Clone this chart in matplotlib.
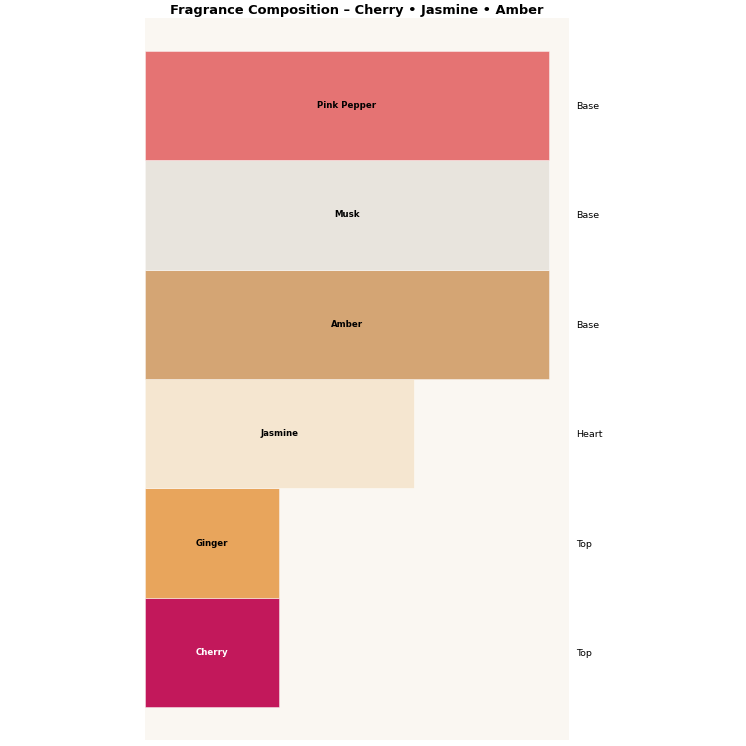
import matplotlib.pyplot as plt
import numpy as np

# notes from bottom to top
notes = ["Cherry", "Ginger", "Jasmine", "Amber", "Musk", "Pink Pepper"]
tiers = ["Top", "Top", "Heart", "Base", "Base", "Base"]
strength = [1, 1, 2, 3, 3, 3]
colors = ["#C2185B", "#E8A55C", "#F5E6D0", "#D4A574", "#E8E4DD", "#E57373"]

fig = plt.figure(figsize=(7.46, 7.46), dpi=100)
ax = fig.add_axes([0.194, 0.008, 0.569, 0.968])
ax.set_facecolor("#FAF7F2")

y = np.arange(len(notes))
ax.barh(y, strength, height=1.0, color=colors, edgecolor=(1, 1, 1, 0.5), linewidth=0.6)

for i in range(len(notes)):
    txt_color = "white" if notes[i] == "Cherry" else "black"
    ax.text(strength[i] / 2, y[i], notes[i], ha="center", va="center",
            fontsize=6.2, fontweight="bold", color=txt_color)

ax.set_xlim(0, 3.15)
ax.set_ylim(-0.8, 5.8)

# tier names on the right side
ax.yaxis.tick_right()
ax.set_yticks(y)
ax.set_yticklabels(tiers, fontsize=6.8)
ax.tick_params(axis="y", length=0, pad=5)
ax.set_xticks([])

for s in ax.spines.values():
    s.set_visible(False)

ax.set_title("Fragrance Composition \u2013 Cherry \u2022 Jasmine \u2022 Amber",
             fontsize=9.4, fontweight="bold", pad=3)

plt.savefig("out.png", dpi=100)
plt.close()
